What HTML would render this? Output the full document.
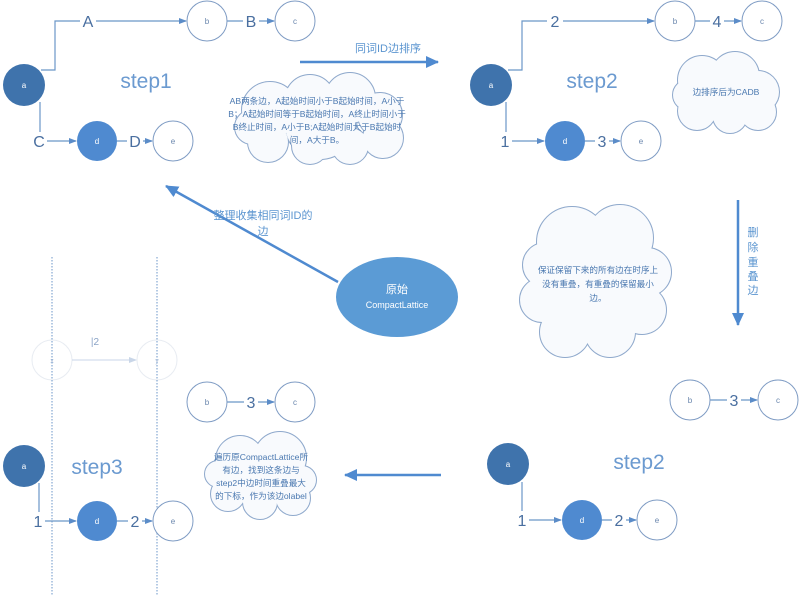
<!DOCTYPE html>
<html><head><meta charset="utf-8"><style>
html,body{margin:0;padding:0;background:#fff}
svg{display:block}
text{font-family:"Liberation Sans","Noto Sans CJK SC",sans-serif}
.n{fill:#fff;stroke:#7f9cc4;stroke-width:1}
.dk{fill:#3f73ac}
.md{fill:#4f8ad0}
.nl{font-size:8px;fill:#6a86ad;text-anchor:middle}
.nw{font-size:8px;fill:#fff;text-anchor:middle}
.el{font-size:16px;fill:#4a6fa0;text-anchor:middle}
.ln{stroke:#6b96c8;stroke-width:1.2;fill:none}
.st{font-size:21px;fill:#6b9ad0;text-anchor:middle}
.ct{font-size:8.6px;fill:#4a78b0;text-anchor:middle}
.lb{font-size:11px;fill:#5b95d0;text-anchor:middle}
</style></head><body>
<svg width="800" height="596" viewBox="0 0 800 596" xmlns="http://www.w3.org/2000/svg">
<defs>
<marker id="ar" markerWidth="8" markerHeight="8" refX="7" refY="4" orient="auto" markerUnits="userSpaceOnUse"><path d="M0,1 L8,4 L0,7 z" fill="#5b8cc8"/></marker>
<marker id="br" markerWidth="14" markerHeight="14" refX="12" refY="6" orient="auto" markerUnits="userSpaceOnUse"><path d="M0,0 L13,6 L0,12 z" fill="#4f8ad0"/></marker>
<marker id="fr" markerWidth="8" markerHeight="8" refX="7" refY="4" orient="auto" markerUnits="userSpaceOnUse"><path d="M0,1 L8,4 L0,7 z" fill="#c9d6e8"/></marker>
<g id="c1"><circle cx="270" cy="110" r="28"/><circle cx="310" cy="100" r="25"/><circle cx="350" cy="98" r="25"/><circle cx="380" cy="115" r="22"/><circle cx="383" cy="138" r="20"/><circle cx="350" cy="146" r="18"/><circle cx="310" cy="146" r="18"/><circle cx="268" cy="142" r="20"/><circle cx="252" cy="127" r="17"/><circle cx="320" cy="124" r="35"/></g>
<g id="c2"><circle cx="702" cy="80" r="24"/><circle cx="735" cy="76" r="24"/><circle cx="758" cy="92" r="21"/><circle cx="758" cy="112" r="18"/><circle cx="730" cy="116" r="17"/><circle cx="697" cy="111" r="19"/><circle cx="688" cy="95" r="15"/><circle cx="725" cy="95" r="28"/></g>
<g id="c3"><circle cx="572" cy="242" r="35"/><circle cx="620" cy="238" r="33"/><circle cx="647" cy="272" r="24"/><circle cx="642" cy="310" r="24"/><circle cx="610" cy="332" r="25"/><circle cx="565" cy="332" r="25"/><circle cx="542" cy="300" r="22"/><circle cx="545" cy="265" r="22"/><circle cx="595" cy="285" r="50"/></g>
<g id="c4"><circle cx="240" cy="460" r="24"/><circle cx="280" cy="458" r="26"/><circle cx="302" cy="480" r="14"/><circle cx="293" cy="498" r="17"/><circle cx="260" cy="502" r="17"/><circle cx="228" cy="494" r="17"/><circle cx="218" cy="474" r="13"/><circle cx="260" cy="478" r="30"/></g>
</defs>

<!-- clouds -->
<g stroke="#8fa9cc" stroke-width="2" fill="none"><use href="#c1"/><use href="#c2"/><use href="#c3"/><use href="#c4"/></g>
<g fill="#f8fafd"><use href="#c1"/><use href="#c2"/><use href="#c3"/><use href="#c4"/></g>
<text class="ct" x="317" y="104">AB两条边，A起始时间小于B起始时间，A小于</text>
<text class="ct" x="317" y="117">B；A起始时间等于B起始时间，A终止时间小于</text>
<text class="ct" x="317" y="130">B终止时间，A小于B;A起始时间大于B起始时</text>
<text class="ct" x="317" y="143">间，A大于B。</text>
<text class="ct" x="726" y="95">边排序后为CADB</text>
<text class="ct" x="598" y="273">保证保留下来的所有边在时序上</text>
<text class="ct" x="598" y="287">没有重叠，有重叠的保留最小</text>
<text class="ct" x="598" y="301">边。</text>
<text class="ct" x="261" y="460">遍历原CompactLattice所</text>
<text class="ct" x="261" y="473">有边，找到这条边与</text>
<text class="ct" x="261" y="486">step2中边时间重叠最大</text>
<text class="ct" x="261" y="499">的下标，作为该边olabel</text>

<!-- step1 -->
<path class="ln" d="M41,70 H55 V21 H186" marker-end="url(#ar)"/>
<rect x="80" y="12" width="16" height="18" fill="#fff"/><text class="el" x="88" y="27">A</text>
<path class="ln" d="M227,21 H274" marker-end="url(#ar)"/>
<rect x="243" y="12" width="16" height="18" fill="#fff"/><text class="el" x="251" y="27">B</text>
<path class="ln" d="M40,102 V141 H76" marker-end="url(#ar)"/>
<rect x="31" y="132" width="16" height="18" fill="#fff"/><text class="el" x="39" y="147">C</text>
<path class="ln" d="M117,141 H152" marker-end="url(#ar)"/>
<rect x="127" y="132" width="16" height="18" fill="#fff"/><text class="el" x="135" y="147">D</text>
<circle class="dk" cx="24" cy="85" r="21"/><text class="nw" x="24" y="88">a</text>
<circle class="n" cx="207" cy="21" r="20"/><text class="nl" x="207" y="24">b</text>
<circle class="n" cx="295" cy="21" r="20"/><text class="nl" x="295" y="24">c</text>
<circle class="md" cx="97" cy="141" r="20"/><text class="nw" x="97" y="144">d</text>
<circle class="n" cx="173" cy="141" r="20"/><text class="nl" x="173" y="144">e</text>
<text class="st" x="146" y="88">step1</text>

<!-- top arrow -->
<text class="lb" x="388" y="52">同词ID边排序</text>
<line x1="300" y1="62" x2="438" y2="62" stroke="#4f8ad0" stroke-width="2.5" marker-end="url(#br)"/>

<!-- step2 top -->
<path class="ln" d="M508,70 H522 V21 H654" marker-end="url(#ar)"/>
<rect x="547" y="12" width="16" height="18" fill="#fff"/><text class="el" x="555" y="27">2</text>
<path class="ln" d="M695,21 H741" marker-end="url(#ar)"/>
<rect x="710" y="12" width="14" height="18" fill="#fff"/><text class="el" x="717" y="27">4</text>
<path class="ln" d="M506,102 V141 H544" marker-end="url(#ar)"/>
<rect x="498" y="132" width="14" height="18" fill="#fff"/><text class="el" x="505" y="147">1</text>
<path class="ln" d="M585,141 H620" marker-end="url(#ar)"/>
<rect x="595" y="132" width="14" height="18" fill="#fff"/><text class="el" x="602" y="147">3</text>
<circle class="dk" cx="491" cy="85" r="21"/><text class="nw" x="491" y="88">a</text>
<circle class="n" cx="675" cy="21" r="20"/><text class="nl" x="675" y="24">b</text>
<circle class="n" cx="762" cy="21" r="20"/><text class="nl" x="762" y="24">c</text>
<circle class="md" cx="565" cy="141" r="20"/><text class="nw" x="565" y="144">d</text>
<circle class="n" cx="641" cy="141" r="20"/><text class="nl" x="641" y="144">e</text>
<text class="st" x="592" y="88">step2</text>

<!-- down arrow -->
<line x1="738" y1="200" x2="738" y2="325" stroke="#4f8ad0" stroke-width="2.5" marker-end="url(#br)"/>
<g class="lb"><text x="753" y="236">删</text><text x="753" y="251">除</text><text x="753" y="266">重</text><text x="753" y="280">叠</text><text x="753" y="294">边</text></g>

<!-- CompactLattice -->
<line x1="338" y1="282" x2="166" y2="186" stroke="#4f8ad0" stroke-width="2.5" marker-end="url(#br)"/>
<text class="lb" x="263" y="219">整理收集相同词ID的</text>
<text class="lb" x="263" y="235">边</text>
<ellipse cx="397" cy="297" rx="61" ry="40" fill="#5b9bd5"/>
<text x="397" y="293" font-size="11" fill="#fff" text-anchor="middle">原始</text>
<text x="397" y="308" font-size="9" fill="#fff" text-anchor="middle">CompactLattice</text>

<!-- bottom right b c -->
<path class="ln" d="M710,400 H757" marker-end="url(#ar)"/>
<rect x="727" y="391" width="14" height="18" fill="#fff"/><text class="el" x="734" y="406">3</text>
<circle class="n" cx="690" cy="400" r="20"/><text class="nl" x="690" y="403">b</text>
<circle class="n" cx="778" cy="400" r="20"/><text class="nl" x="778" y="403">c</text>

<!-- bottom step2 -->
<path class="ln" d="M522,482 V520 H561" marker-end="url(#ar)"/>
<rect x="515" y="511" width="14" height="18" fill="#fff"/><text class="el" x="522" y="526">1</text>
<path class="ln" d="M602,520 H636" marker-end="url(#ar)"/>
<rect x="612" y="511" width="14" height="18" fill="#fff"/><text class="el" x="619" y="526">2</text>
<circle class="dk" cx="508" cy="464" r="21"/><text class="nw" x="508" y="467">a</text>
<circle class="md" cx="582" cy="520" r="20"/><text class="nw" x="582" y="523">d</text>
<circle class="n" cx="657" cy="520" r="20"/><text class="nl" x="657" y="523">e</text>
<text class="st" x="639" y="469">step2</text>

<!-- left arrow -->
<line x1="441" y1="475" x2="345" y2="475" stroke="#4f8ad0" stroke-width="2.5" marker-end="url(#br)"/>

<!-- step3 area -->
<circle cx="52" cy="360" r="20" fill="none" stroke="#e8ecf2"/>
<circle cx="157" cy="360" r="20" fill="none" stroke="#e8ecf2"/>
<text x="52" y="363" font-size="7" fill="#c0cce0" text-anchor="middle">x</text>
<text x="157" y="363" font-size="7" fill="#c0cce0" text-anchor="middle">y</text>
<line x1="72" y1="360" x2="136" y2="360" stroke="#c9d6e8" marker-end="url(#fr)"/>
<text x="95" y="345" font-size="10" fill="#8aa3c6" text-anchor="middle">|2</text>
<line x1="52" y1="257" x2="52" y2="596" stroke="#6b96c8" stroke-dasharray="1.5,1.5"/>
<line x1="157" y1="257" x2="157" y2="596" stroke="#6b96c8" stroke-dasharray="1.5,1.5"/>

<path class="ln" d="M227,402 H274" marker-end="url(#ar)"/>
<rect x="244" y="393" width="14" height="18" fill="#fff"/><text class="el" x="251" y="408">3</text>
<circle class="n" cx="207" cy="402" r="20"/><text class="nl" x="207" y="405">b</text>
<circle class="n" cx="295" cy="402" r="20"/><text class="nl" x="295" y="405">c</text>

<path class="ln" d="M39,483 V521 H76" marker-end="url(#ar)"/>
<rect x="31" y="512" width="14" height="18" fill="#fff"/><text class="el" x="38" y="527">1</text>
<path class="ln" d="M117,521 H152" marker-end="url(#ar)"/>
<rect x="128" y="512" width="14" height="18" fill="#fff"/><text class="el" x="135" y="527">2</text>
<circle class="dk" cx="24" cy="466" r="21"/><text class="nw" x="24" y="469">a</text>
<circle class="md" cx="97" cy="521" r="20"/><text class="nw" x="97" y="524">d</text>
<circle class="n" cx="173" cy="521" r="20"/><text class="nl" x="173" y="524">e</text>
<text class="st" x="97" y="474">step3</text>
</svg>
</body></html>
